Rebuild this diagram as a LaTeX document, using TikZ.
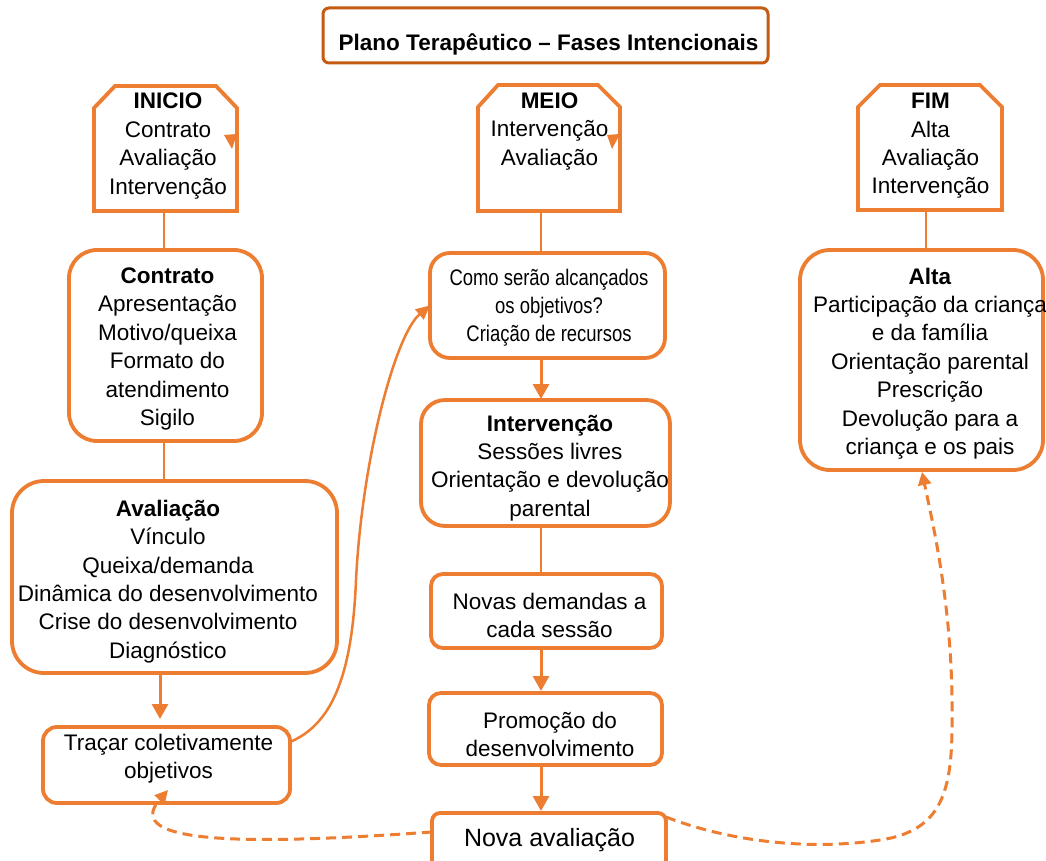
\documentclass[tikz,border=0pt]{standalone}
\usepackage{fontspec}
\setmainfont{Liberation Sans}
\newfontfamily\narrowfont[FakeStretch=0.82]{Liberation Sans}
\usetikzlibrary{arrows.meta,calc}
\definecolor{org}{RGB}{237,125,49}
\definecolor{dorg}{RGB}{197,90,17}
\begin{document}
\begin{tikzpicture}[x=1pt,y=-1pt,
  txt/.style={align=center, inner sep=0pt, font=\fontsize{22.5}{28.4}\selectfont, text=black, yshift=-2.5pt},
  rbox/.style={draw=org, line width=3.8pt, fill=white, inner sep=0pt, outer sep=0pt},
  topbox/.style={draw=org, line width=3.8pt, line join=miter, fill=white},
  anchorbox/.style={inner sep=0pt, outer sep=0pt},
  link/.style={draw=org, line width=2pt},
  arr/.style={draw=org, line width=3pt, -{Triangle[length=15pt,width=16pt]}},
  carr/.style={draw=org, line width=2.5pt, -{Triangle[length=14pt,width=13pt]}},
  dsh/.style={draw=org, line width=3pt, dash pattern=on 10pt off 6pt, -{Triangle[length=13pt,width=13pt]}},
]
\useasboundingbox (0,0) rectangle (1046,861);
\fill[white] (0,0) rectangle (1046,861);

% title
\node[draw=dorg, line width=3pt, rounded corners=6pt, minimum width=445pt, minimum height=55pt, fill=white] (titlebox) at (545.5,35.5) {};
\node[txt, font=\fontsize{22.5}{28.4}\selectfont\bfseries] (title) at (548.5,42) {Plano Terapêutico – Fases Intencionais};

% top boxes
\draw[topbox] (94,211) -- (94,108) -- (115,86) -- (216,86) -- (237,108) -- (237,211) -- cycle;
\node[anchorbox, minimum width=143pt, minimum height=125pt] (inicio) at (165.5,148.5) {};
\node[txt] (inicio-t) at (168,143.5) {\textbf{INICIO}\\Contrato\\Avaliação\\Intervenção};
\fill[org] (224,135) -- (237,134) -- (232,149) -- cycle;

\draw[topbox] (478,211) -- (478,107) -- (498,85) -- (598,85) -- (620,107) -- (620,211) -- cycle;
\node[anchorbox, minimum width=142pt, minimum height=126pt] (meio) at (549,148) {};
\node[txt] (meio-t) at (549.5,129) {\textbf{MEIO}\\Intervenção\\Avaliação};
\fill[org] (607,135) -- (620,134) -- (612,149) -- cycle;

\draw[topbox] (858,210) -- (858,107) -- (880,85) -- (980,85) -- (1002,107) -- (1002,210) -- cycle;
\node[anchorbox, minimum width=144pt, minimum height=125pt] (fim) at (930,147.5) {};
\node[txt] (fim-t) at (930.5,143.5) {\textbf{FIM}\\Alta\\Avaliação\\Intervenção};

% left column
\node[rbox, rounded corners=28pt, minimum width=193pt, minimum height=191pt] (contrato) at (165.5,345.5) {};
\node[txt] (contrato-t) at (167.5,346.5) {\textbf{Contrato}\\Apresentação\\Motivo/queixa\\Formato do\\atendimento\\Sigilo};

\node[rbox, rounded corners=32pt, minimum width=325pt, minimum height=192pt] (aval) at (174.5,577) {};
\node[txt] (aval-t) at (168,579) {\textbf{Avaliação}\\Vínculo\\Queixa/demanda\\Dinâmica do desenvolvimento\\Crise do desenvolvimento\\Diagnóstico};

\node[rbox, rounded corners=14pt, minimum width=247pt, minimum height=76pt] (trac) at (166.5,765) {};
\node[txt] (trac-t) at (168.5,756) {Traçar coletivamente\\objetivos};

% middle column
\node[rbox, rounded corners=20pt, minimum width=235pt, minimum height=105pt] (como) at (547.5,305.5) {};
\node[txt, font=\narrowfont\fontsize{22.5}{28}\selectfont] (como-t) at (549,305) {Como serão alcançados\\os objetivos?\\Criação de recursos};

\node[rbox, rounded corners=24pt, minimum width=249pt, minimum height=126pt] (interv) at (545.5,463) {};
\node[txt] (interv-t) at (550,465.5) {\textbf{Intervenção}\\Sessões livres\\Orientação e devolução\\parental};

\node[rbox, rounded corners=12pt, minimum width=231pt, minimum height=74pt] (novas) at (546.5,611) {};
\node[txt] (novas-t) at (549.5,613) {Novas demandas a\\cada sessão};

\node[rbox, rounded corners=12pt, minimum width=233pt, minimum height=72pt] (prom) at (545.5,729) {};
\node[txt] (prom-t) at (550,732) {Promoção do\\desenvolvimento};

\node[rbox, rounded corners=8pt, minimum width=234pt, minimum height=57pt] (nova) at (549,841.5) {};
\node[txt, font=\fontsize{25}{30}\selectfont] (nova-t) at (549.5,838) {Nova avaliação};

% right column
\node[rbox, rounded corners=30pt, minimum width=243pt, minimum height=220pt] (alta) at (921.5,360) {};
\node[txt] (alta-t) at (930,361) {\textbf{Alta}\\Participação da criança\\e da família\\Orientação parental\\Prescrição\\Devolução para a\\criança e os pais};

% connectors
\draw[link] ([xshift=-1.5pt]inicio.south) -- ([xshift=-1.5pt]inicio.south |- contrato.north);
\draw[link] ([xshift=-1.5pt]contrato.south) -- ([xshift=-1.5pt]contrato.south |- aval.north);
\draw[arr, shorten >=8pt] ([xshift=-6.5pt]trac.north |- aval.south) -- ([xshift=-6.5pt]trac.north);

\draw[link] ([xshift=-8pt]meio.south) -- ([xshift=-8pt]meio.south |- como.north);
\draw[arr, shorten >=1pt] ([xshift=-6.5pt]como.south) -- ([xshift=-6.5pt]como.south |- interv.north);
\draw[link] ([xshift=-4.5pt]interv.south) -- ([xshift=-4.5pt]interv.south |- novas.north);
\draw[arr, shorten >=2pt] ([xshift=-5.5pt]novas.south) -- ([xshift=-5.5pt]novas.south |- prom.north);
\draw[arr, shorten >=2pt] ([xshift=-4.5pt]prom.south) -- ([xshift=-4.5pt]prom.south |- nova.north);

\draw[link] ([xshift=-4pt]fim.south) -- ([xshift=-4pt]fim.south |- alta.north);

% curved arrow
\draw[carr] ([yshift=23pt]trac.east) .. controls (330,725) and (352,680) .. (356,580)
  .. controls (362,460) and (395,335) .. (como.west);

% dashed arrows
\draw[dsh] ([yshift=9.5pt]nova.west) .. controls (250,845) and (120,845) .. ([xshift=1.5pt,yshift=13pt]trac.south);
\draw[dsh] ([yshift=24.5pt]nova.east) .. controls (720,838) and (800,852) .. (880,840)
  .. controls (950,830) and (953,780) .. (952,700)
  .. controls (951,600) and (932,520) .. ([xshift=0.5pt,yshift=-2pt]alta.south);
\end{tikzpicture}
\end{document}
